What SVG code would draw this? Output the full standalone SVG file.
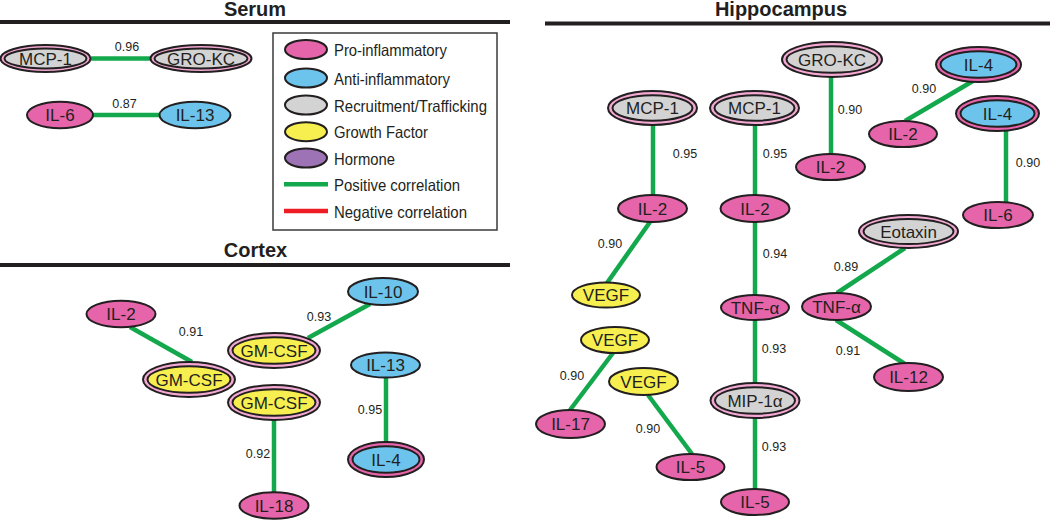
<svg xmlns="http://www.w3.org/2000/svg" width="1050" height="521" viewBox="0 0 1050 521">
<style>
text{font-family:"Liberation Sans",Arial,sans-serif;fill:#231f20}
.hd{font-size:20px;font-weight:bold;text-anchor:middle}
.rule{stroke:#231f20;stroke-width:4}
.n{font-size:17px;text-anchor:middle}
.lb{font-size:12.5px;text-anchor:middle}
.lg{font-size:16.5px}
.e{stroke:#231f20;stroke-width:2}
.pro{fill:#e665aa}
.anti{fill:#6cc4ec}
.rec{fill:#d3d3d3}
.gro{fill:#f6ef4f}
.hor{fill:#9d73b5}
.ring{fill:#f3a9d3}
.pos{stroke:#13a84c;stroke-width:4.5;fill:none}
.neg{stroke:#ee1c25;stroke-width:4.5;fill:none}
</style>
<!-- headers -->
<g id="headers">
<text class="hd" x="255" y="16">Serum</text>
<line class="rule" x1="0" y1="22" x2="510" y2="22"/>
<text class="hd" x="781" y="16">Hippocampus</text>
<line class="rule" x1="545" y1="23.5" x2="1050" y2="23.5"/>
<text class="hd" x="255.5" y="257">Cortex</text>
<line class="rule" x1="0" y1="265" x2="510" y2="265"/>
</g>
<!-- legend -->
<g id="legend">
<rect x="273" y="33" width="224" height="197" fill="#fff" stroke="#3a3a3a" stroke-width="1.5"/>
<ellipse class="e pro" cx="306" cy="49.5" rx="21" ry="9.5"/>
<text class="lg" x="334" y="56" textLength="113" lengthAdjust="spacingAndGlyphs">Pro-inflammatory</text>
<ellipse class="e anti" cx="306" cy="78" rx="21" ry="9.5"/>
<text class="lg" x="334" y="84.5" textLength="116" lengthAdjust="spacingAndGlyphs">Anti-inflammatory</text>
<ellipse class="e rec" cx="306" cy="105" rx="21" ry="9.5"/>
<text class="lg" x="334" y="111.5" textLength="153" lengthAdjust="spacingAndGlyphs">Recruitment/Trafficking</text>
<ellipse class="e gro" cx="306" cy="131.7" rx="21" ry="9.5"/>
<text class="lg" x="334" y="138" textLength="94" lengthAdjust="spacingAndGlyphs">Growth Factor</text>
<ellipse class="e hor" cx="306" cy="158" rx="21" ry="9.5"/>
<text class="lg" x="334" y="164.5" textLength="61" lengthAdjust="spacingAndGlyphs">Hormone</text>
<line class="pos" x1="284" y1="184.3" x2="328" y2="184.3" stroke-width="3"/>
<text class="lg" x="334" y="191" textLength="126" lengthAdjust="spacingAndGlyphs">Positive correlation</text>
<line class="neg" x1="284" y1="211" x2="328" y2="211" stroke-width="3"/>
<text class="lg" x="334" y="217.5" textLength="133" lengthAdjust="spacingAndGlyphs">Negative correlation</text>
</g>
<!-- connectors -->
<g id="connectors">
<line class="pos" x1="91" y1="58.5" x2="151" y2="58.5"/>
<line class="pos" x1="93" y1="115" x2="160" y2="115"/>
<line class="pos" x1="130" y1="327" x2="192" y2="362"/>
<line class="pos" x1="308" y1="338" x2="370" y2="304"/>
<line class="pos" x1="274" y1="420" x2="274" y2="492"/>
<line class="pos" x1="386" y1="377" x2="386" y2="442"/>
<line class="pos" x1="653" y1="125" x2="653" y2="195"/>
<line class="pos" x1="755" y1="125" x2="755" y2="195"/>
<line class="pos" x1="650" y1="222" x2="607" y2="283"/>
<line class="pos" x1="755" y1="222" x2="755" y2="295"/>
<line class="pos" x1="755" y1="320" x2="755" y2="383"/>
<line class="pos" x1="755" y1="418" x2="755" y2="489"/>
<line class="pos" x1="613" y1="353" x2="570" y2="410"/>
<line class="pos" x1="648" y1="395" x2="692" y2="454"/>
<line class="pos" x1="831" y1="77" x2="831" y2="154"/>
<line class="pos" x1="973" y1="81" x2="905" y2="121"/>
<line class="pos" x1="1006" y1="131" x2="1006" y2="202"/>
<line class="pos" x1="905" y1="248" x2="837" y2="293"/>
<line class="pos" x1="836" y1="320" x2="905" y2="364"/>
<g id="edge-labels">
<text class="lb" x="127" y="51">0.96</text>
<text class="lb" x="124.5" y="108">0.87</text>
<text class="lb" x="191" y="336">0.91</text>
<text class="lb" x="319" y="321">0.93</text>
<text class="lb" x="258" y="458">0.92</text>
<text class="lb" x="370" y="414">0.95</text>
<text class="lb" x="685" y="158">0.95</text>
<text class="lb" x="775" y="158">0.95</text>
<text class="lb" x="610" y="248">0.90</text>
<text class="lb" x="775" y="258">0.94</text>
<text class="lb" x="774" y="353">0.93</text>
<text class="lb" x="774" y="451">0.93</text>
<text class="lb" x="572" y="380">0.90</text>
<text class="lb" x="648" y="433">0.90</text>
<text class="lb" x="850" y="114">0.90</text>
<text class="lb" x="924" y="93">0.90</text>
<text class="lb" x="1028" y="167">0.90</text>
<text class="lb" x="846" y="271">0.89</text>
<text class="lb" x="848" y="355">0.91</text>
</g>
</g>
<!-- serum nodes -->
<g id="serum-mcp1"><ellipse class="e ring" cx="45.5" cy="58.5" rx="45" ry="13.5"/><ellipse class="e rec" cx="45.5" cy="58.5" rx="41" ry="10"/><text class="n" x="45.5" y="64.5">MCP-1</text></g>
<g id="serum-grokc"><ellipse class="e ring" cx="201" cy="58.5" rx="50.5" ry="13.5"/><ellipse class="e rec" cx="201" cy="58.5" rx="46.5" ry="10"/><text class="n" x="201" y="64.5">GRO-KC</text></g>
<g id="serum-il6"><ellipse class="e pro" cx="60" cy="115" rx="33" ry="13.3"/><text class="n" x="60" y="121">IL-6</text></g>
<g id="serum-il13"><ellipse class="e anti" cx="195" cy="115" rx="35.5" ry="13.3"/><text class="n" x="195" y="121">IL-13</text></g>
<!-- cortex nodes -->
<g id="cortex-il2"><ellipse class="e pro" cx="121" cy="314" rx="34.5" ry="13.3"/><text class="n" x="121" y="320">IL-2</text></g>
<g id="cortex-gmcsf1"><ellipse class="e ring" cx="189" cy="379.5" rx="46" ry="17.5"/><ellipse class="e gro" cx="189" cy="379.5" rx="41.5" ry="13.3"/><text class="n" x="189" y="385.5">GM-CSF</text></g>
<g id="cortex-gmcsf2"><ellipse class="e ring" cx="274" cy="350.5" rx="46" ry="17.5"/><ellipse class="e gro" cx="274" cy="350.5" rx="41.5" ry="13.3"/><text class="n" x="274" y="356.5">GM-CSF</text></g>
<g id="cortex-gmcsf3"><ellipse class="e ring" cx="274" cy="402.5" rx="46" ry="17.5"/><ellipse class="e gro" cx="274" cy="402.5" rx="41.5" ry="13.3"/><text class="n" x="274" y="408.5">GM-CSF</text></g>
<g id="cortex-il18"><ellipse class="e pro" cx="274" cy="505.5" rx="34.5" ry="13.3"/><text class="n" x="274" y="511.5">IL-18</text></g>
<g id="cortex-il10"><ellipse class="e anti" cx="383" cy="291.5" rx="35" ry="13.5"/><text class="n" x="383" y="297.5">IL-10</text></g>
<g id="cortex-il13"><ellipse class="e anti" cx="385.5" cy="365" rx="34.5" ry="12.5"/><text class="n" x="385.5" y="371">IL-13</text></g>
<g id="cortex-il4"><ellipse class="e pro" cx="386" cy="459.5" rx="38" ry="17.5"/><ellipse class="e anti" cx="386" cy="459.5" rx="33.5" ry="13.3"/><text class="n" x="386" y="465.5">IL-4</text></g>
<!-- hippocampus nodes -->
<g id="hip-mcp1a"><ellipse class="e ring" cx="652.5" cy="108" rx="44.5" ry="17"/><ellipse class="e rec" cx="652.5" cy="108" rx="40" ry="12.8"/><text class="n" x="652.5" y="114">MCP-1</text></g>
<g id="hip-mcp1b"><ellipse class="e ring" cx="754.5" cy="108" rx="44.5" ry="17"/><ellipse class="e rec" cx="754.5" cy="108" rx="40" ry="12.8"/><text class="n" x="754.5" y="114">MCP-1</text></g>
<g id="hip-grokc"><ellipse class="e ring" cx="832" cy="59.5" rx="50" ry="17.5"/><ellipse class="e rec" cx="832" cy="59.5" rx="45.5" ry="13.3"/><text class="n" x="832" y="65.5">GRO-KC</text></g>
<g id="hip-il4a"><ellipse class="e pro" cx="978.5" cy="64.5" rx="42.5" ry="17.5"/><ellipse class="e anti" cx="978.5" cy="64.5" rx="38" ry="13.3"/><text class="n" x="978.5" y="70.5">IL-4</text></g>
<g id="hip-il4b"><ellipse class="e pro" cx="997.5" cy="113.5" rx="41.5" ry="17.5"/><ellipse class="e anti" cx="997.5" cy="113.5" rx="37" ry="13.3"/><text class="n" x="997.5" y="119.5">IL-4</text></g>
<g id="hip-il2a"><ellipse class="e pro" cx="652.5" cy="208.5" rx="34.5" ry="13.5"/><text class="n" x="652.5" y="214.5">IL-2</text></g>
<g id="hip-il2b"><ellipse class="e pro" cx="755" cy="208.5" rx="34.5" ry="13.5"/><text class="n" x="755" y="214.5">IL-2</text></g>
<g id="hip-il2c"><ellipse class="e pro" cx="830.5" cy="167" rx="34.5" ry="13"/><text class="n" x="830.5" y="173">IL-2</text></g>
<g id="hip-il2d"><ellipse class="e pro" cx="903" cy="134" rx="34" ry="13"/><text class="n" x="903" y="140">IL-2</text></g>
<g id="hip-il6"><ellipse class="e pro" cx="998" cy="215" rx="35" ry="13"/><text class="n" x="998" y="221">IL-6</text></g>
<g id="hip-eotaxin"><ellipse class="e ring" cx="908.5" cy="231.5" rx="49.5" ry="16.5"/><ellipse class="e rec" cx="908.5" cy="231.5" rx="45" ry="12.5"/><text class="n" x="908.5" y="237.5">Eotaxin</text></g>
<g id="hip-vegf1"><ellipse class="e gro" cx="606" cy="295" rx="34" ry="12.5"/><text class="n" x="606" y="301">VEGF</text></g>
<g id="hip-vegf2"><ellipse class="e gro" cx="615" cy="340" rx="34" ry="13"/><text class="n" x="615" y="346">VEGF</text></g>
<g id="hip-vegf3"><ellipse class="e gro" cx="643.5" cy="381.5" rx="34.5" ry="13.5"/><text class="n" x="643.5" y="387.5">VEGF</text></g>
<g id="hip-il17"><ellipse class="e pro" cx="570.5" cy="424" rx="34.5" ry="14"/><text class="n" x="570.5" y="430">IL-17</text></g>
<g id="hip-il5a"><ellipse class="e pro" cx="690.5" cy="467" rx="34" ry="13"/><text class="n" x="690.5" y="473">IL-5</text></g>
<g id="hip-tnfa"><ellipse class="e pro" cx="755" cy="307.5" rx="34" ry="12.5"/><text class="n" x="755" y="313.5">TNF-α</text></g>
<g id="hip-mip1a"><ellipse class="e ring" cx="755" cy="400.5" rx="44.5" ry="17.5"/><ellipse class="e rec" cx="755" cy="400.5" rx="40" ry="13.3"/><text class="n" x="755" y="406.5">MIP-1α</text></g>
<g id="hip-il5b"><ellipse class="e pro" cx="755" cy="502" rx="34" ry="13"/><text class="n" x="755" y="508">IL-5</text></g>
<g id="hip-tnfb"><ellipse class="e pro" cx="836.5" cy="306.5" rx="34.5" ry="13.5"/><text class="n" x="836.5" y="312.5">TNF-α</text></g>
<g id="hip-il12"><ellipse class="e pro" cx="908.5" cy="377" rx="34.5" ry="14"/><text class="n" x="908.5" y="383">IL-12</text></g>
</svg>
